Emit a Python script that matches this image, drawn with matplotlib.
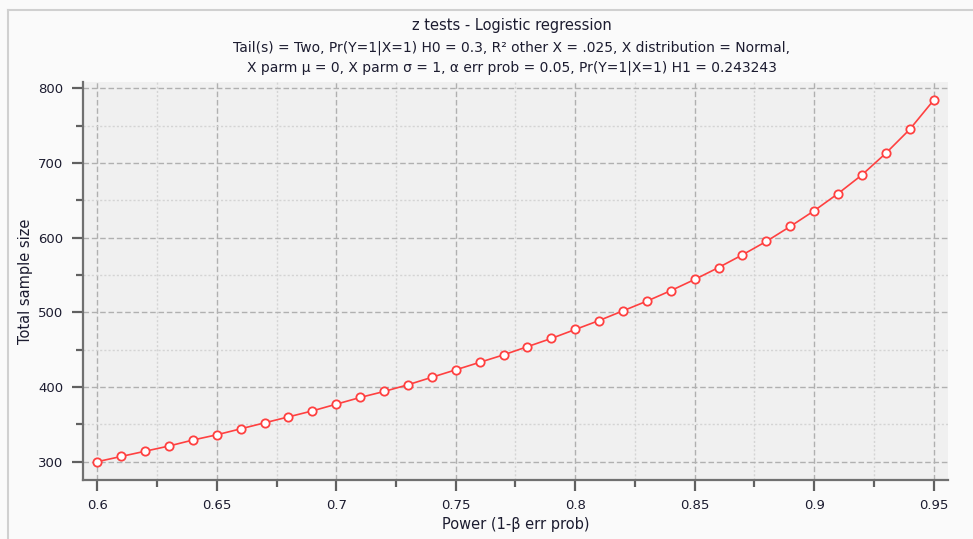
import matplotlib
matplotlib.use('Agg')
import matplotlib.pyplot as plt
from matplotlib.ticker import MultipleLocator

power = [0.60, 0.61, 0.62, 0.63, 0.64, 0.65, 0.66, 0.67, 0.68, 0.69,
         0.70, 0.71, 0.72, 0.73, 0.74, 0.75, 0.76, 0.77, 0.78, 0.79,
         0.80, 0.81, 0.82, 0.83, 0.84, 0.85, 0.86, 0.87, 0.88, 0.89,
         0.90, 0.91, 0.92, 0.93, 0.94, 0.95]
sample_size = [300, 307, 314, 321, 329, 336, 344, 352, 360, 368,
               377, 386, 394, 403, 413, 423, 433, 443, 454, 465,
               477, 489, 502, 515, 529, 544, 560, 577, 595, 615,
               636, 659, 684, 713, 745, 784]

x_ticks = [0.6, 0.65, 0.7, 0.75, 0.8, 0.85, 0.9, 0.95]
x_tick_labels = ['0.6', '0.65', '0.7', '0.75', '0.8', '0.85', '0.9', '0.95']
y_ticks = [300, 400, 500, 600, 700, 800]

title = 'z tests - Logistic regression'
subtitle1 = 'Tail(s) = Two, Pr(Y=1|X=1) H0 = 0.3, R² other X = .025, X distribution = Normal,'
subtitle2 = 'X parm μ = 0, X parm σ = 1, α err prob = 0.05, Pr(Y=1|X=1) H1 = 0.243243'

plt.rcParams['font.family'] = ['DejaVu Sans']
txt_col = '#1c1c30'

fig = plt.figure(figsize=(9.73, 5.39), dpi=100, facecolor='#fafafa')
# thin frame like the app window
fig.add_artist(plt.Line2D([0.008, 0.008], [0.0, 0.982], color='#d0d0d0', lw=1.5))
fig.add_artist(plt.Line2D([0.008, 1.0], [0.982, 0.982], color='#d0d0d0', lw=1.5))

ax = fig.add_axes([0.0853, 0.1095, 0.8890, 0.7384])
ax.set_facecolor('#f0f0f0')

ax.plot(power, sample_size, color='#ff4040', lw=1.2, marker='o', markersize=6,
        markerfacecolor='white', markeredgecolor='#ff4040', markeredgewidth=1.3, zorder=3)

ax.set_xlim(0.594, 0.956)
ax.set_ylim(275.5, 808.4)
ax.set_xticks(x_ticks)
ax.set_xticklabels(x_tick_labels)
ax.set_yticks(y_ticks)
ax.xaxis.set_minor_locator(MultipleLocator(0.025))
ax.yaxis.set_minor_locator(MultipleLocator(50))

ax.grid(which='major', color='#b0b0b0', linestyle=(0, (4, 2)), lw=1.0)
ax.grid(which='minor', color='#d4d4d4', linestyle=(0, (1.5, 1.5)), lw=1.0)
ax.set_axisbelow(True)

for s in ['top', 'right']:
    ax.spines[s].set_visible(False)
for s in ['left', 'bottom']:
    ax.spines[s].set_color('#707070')
    ax.spines[s].set_linewidth(1.6)

ax.tick_params(which='major', length=8, width=1.6, color='#606060',
               labelsize=9.5, labelcolor=txt_col, pad=6)
ax.tick_params(which='minor', length=5, width=1.6, color='#606060')

ax.set_xlabel('Power (1-β err prob)', fontsize=10.5, color=txt_col, labelpad=3)
ax.set_ylabel('Total sample size', fontsize=10.5, color=txt_col, labelpad=4)

fig.text(0.526, 0.952, title, ha='center', va='center', fontsize=10.5, color=txt_col)
fig.text(0.526, 0.911, subtitle1, ha='center', va='center', fontsize=10, color=txt_col)
fig.text(0.526, 0.874, subtitle2, ha='center', va='center', fontsize=10, color=txt_col)

fig.savefig('out.png', dpi=100, facecolor=fig.get_facecolor())
